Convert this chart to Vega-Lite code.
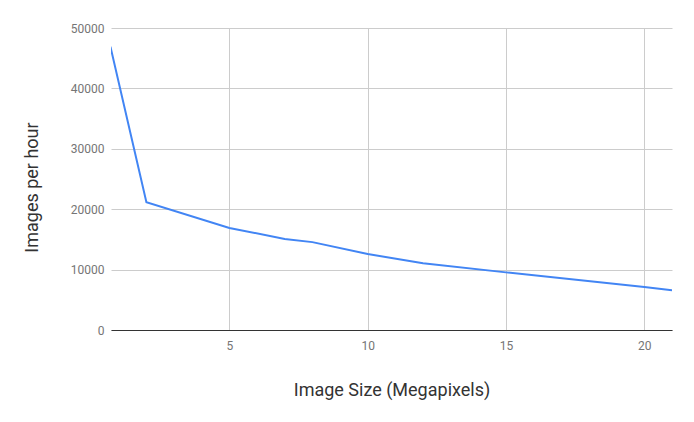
{
  "$schema": "https://vega.github.io/schema/vega-lite/v6.json",
  "autosize": "none",
  "width": 561,
  "height": 302,
  "padding": {"left": 111, "top": 28, "right": 22, "bottom": 92},
  "background": "white",
  "config": {
    "view": {"stroke": null},
    "font": "Roboto",
    "axis": {
      "labelFont": "Roboto",
      "titleFont": "Roboto",
      "labelColor": "#757575",
      "labelFontSize": 12,
      "titleColor": "#333333",
      "titleFontSize": 18,
      "titleFontWeight": "normal",
      "gridColor": "#cccccc",
      "gridWidth": 1,
      "ticks": false
    }
  },
  "data": {
    "values": [
      {"mp": 0.7, "iph": 46900},
      {"mp": 2, "iph": 21150},
      {"mp": 5, "iph": 16900},
      {"mp": 7, "iph": 15070},
      {"mp": 8, "iph": 14550},
      {"mp": 10, "iph": 12580},
      {"mp": 12, "iph": 11050},
      {"mp": 15, "iph": 9540},
      {"mp": 20, "iph": 7120},
      {"mp": 21, "iph": 6560}
    ]
  },
  "mark": {"type": "line", "color": "#4285F4", "strokeWidth": 2, "clip": true},
  "encoding": {
    "x": {
      "field": "mp",
      "type": "quantitative",
      "title": "Image Size (Megapixels)",
      "scale": {"domain": [0.72, 21], "nice": false, "zero": false},
      "axis": {
        "values": [5, 10, 15, 20],
        "domain": true,
        "domainColor": "#333333",
        "domainWidth": 1,
        "labelPadding": 10,
        "titlePadding": 30
      }
    },
    "y": {
      "field": "iph",
      "type": "quantitative",
      "title": "Images per hour",
      "scale": {"domain": [0, 50000], "nice": false},
      "axis": {
        "values": [0, 10000, 20000, 30000, 40000, 50000],
        "format": "d",
        "domain": false,
        "labelPadding": 7,
        "titlePadding": 29,
        "titleY": 159
      }
    }
  }
}
